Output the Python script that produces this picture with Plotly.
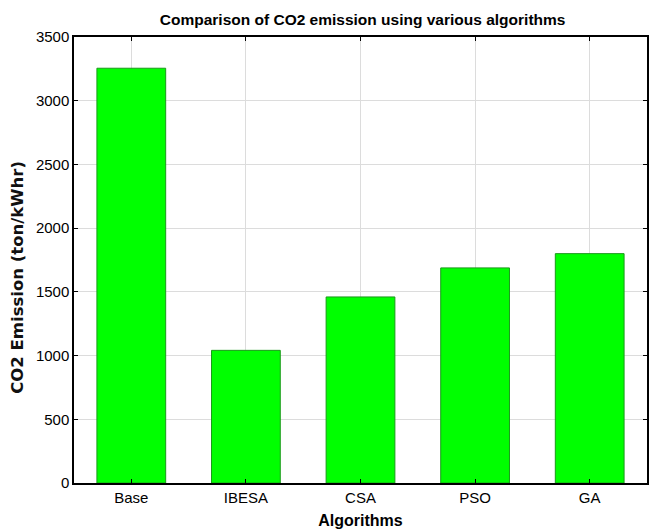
import plotly.graph_objects as go

# CO2 emission per algorithm
algorithms = ["Base", "IBESA", "CSA", "PSO", "GA"]
co2_emission = [3255, 1041, 1460, 1688, 1800]
y_ticks = [0, 500, 1000, 1500, 2000, 2500, 3000, 3500]

font_family = "Liberation Sans, Arial, sans-serif"

fig = go.Figure(
    go.Bar(
        x=algorithms,
        y=co2_emission,
        width=0.6,
        marker=dict(color="#00FF00", line=dict(color="#1a9a1a", width=1)),
    )
)

fig.update_layout(
    width=651,
    height=531,
    margin=dict(l=74, r=2, t=37, b=48),
    paper_bgcolor="white",
    plot_bgcolor="white",
    showlegend=False,
    title=dict(
        text="<b>Comparison of CO2 emission using various algorithms</b>",
        x=0.557,
        xanchor="center",
        y=0.964,
        yanchor="middle",
        font=dict(family=font_family, size=15.5, color="black"),
    ),
    font=dict(family=font_family, size=15, color="black"),
)

# rotated y-axis label, placed as an annotation left of the tick labels
fig.add_annotation(
    text="<b>CO2 Emission (ton/kWhr)</b>",
    xref="paper",
    yref="paper",
    x=-0.098,
    y=0.462,
    xanchor="center",
    yanchor="middle",
    textangle=-90,
    showarrow=False,
    font=dict(family="DejaVu Sans, sans-serif", size=16.5, color="#111111"),
)

fig.update_xaxes(
    range=[-0.5, 4.5],
    showline=True,
    linecolor="black",
    linewidth=1.5,
    mirror="ticks",
    ticks="inside",
    ticklen=4,
    tickcolor="black",
    showgrid=True,
    gridcolor="#dcdcdc",
    gridwidth=1,
    tickfont=dict(size=15),
    title=dict(text="<b>Algorithms</b>", font=dict(size=16), standoff=10),
)

fig.update_yaxes(
    range=[0, 3500],
    tickvals=y_ticks,
    showline=True,
    linecolor="black",
    linewidth=1.5,
    mirror="ticks",
    ticks="inside",
    ticklen=4,
    tickcolor="black",
    showgrid=True,
    gridcolor="#dcdcdc",
    gridwidth=1,
    zeroline=False,
    tickfont=dict(size=15),
)

fig.write_html("out.html")
